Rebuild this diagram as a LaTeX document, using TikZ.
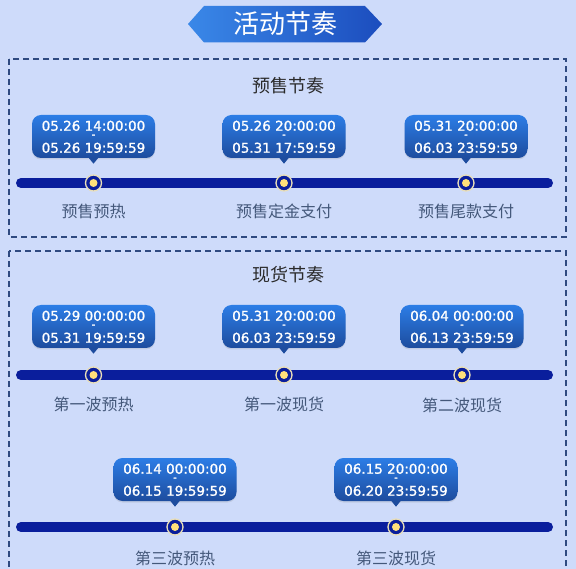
\documentclass[tikz,border=0pt]{standalone}
\usepackage{fontspec}
\usetikzlibrary{calc,shadows}
\newfontfamily\cjk{Noto Sans CJK SC}
\newfontfamily\num[FakeBold=1.3]{DejaVu Sans}
\definecolor{bg}{HTML}{CEDBFA}
\definecolor{barblue}{HTML}{0A1E9C}
\definecolor{boxline}{HTML}{2F4A80}
\definecolor{bubtop}{HTML}{2C7DE6}
\definecolor{bubbot}{HTML}{1D4C9E}
\definecolor{ring}{HTML}{EADFB8}
\definecolor{dotyel}{HTML}{FFE07A}
\definecolor{lbl}{HTML}{44587A}
\definecolor{ttl}{HTML}{2A2A2A}
\definecolor{banL}{HTML}{3A88E8}
\definecolor{banR}{HTML}{1C4DBE}
\tikzset{
  sectbox/.style={draw=boxline, line width=1.3pt, dash pattern=on 6pt off 4pt},
  bubble/.style={rounded corners=9pt, minimum width=123pt, minimum height=43pt, inner sep=0pt,
    top color=bubtop, bottom color=bubbot, draw=none,
    drop shadow={opacity=0.18, shadow xshift=0pt, shadow yshift=-1.5pt}},
  btext/.style={text=white, font=\num\fontsize{13.5}{15}\selectfont, inner sep=0pt},
  bdash/.style={text=white, font=\num\fontsize{10}{11}\selectfont, inner sep=0pt},
  steplbl/.style={text=lbl, font=\cjk\fontsize{16}{18}\selectfont, inner sep=0pt},
  secttl/.style={text=ttl, font=\cjk\fontsize{18}{20}\selectfont, inner sep=0pt},
  bar/.style={line width=10pt, line cap=round, draw=barblue},
  ringdot/.style={circle, minimum size=16pt, inner sep=0pt, fill=barblue, draw=ring, line width=1.3pt},
  yeldot/.style={circle, minimum size=8pt, inner sep=0pt, fill=dotyel}
}
\newcommand{\bub}[5]{%
  \node[bubble] (#1) at (#2,#3+21.5) {};
  \fill[bubbot] ($(#1.south)+(-4.5,0)$) -- ($(#1.south)+(0,5.5)$) -- ($(#1.south)+(4.5,0)$) -- cycle;
  \node[btext] (#1a) at ($(#1.north)+(0,11)$) {#4};
  \node[bdash] (#1d) at ($(#1.north)+(0,21.5)$) {-};
  \node[btext] (#1b) at ($(#1.north)+(0,33)$) {#5};
}
\newcommand{\stepdot}[5]{%
  \node[ringdot] (#1) at (#2,#3) {};
  \node[yeldot] (#1y) at (#1) {};
  \node[steplbl] (#1l) at (#2,#4) {#5};
}
\begin{document}
\begin{tikzpicture}[x=1pt,y=-1pt]
\fill[bg] (0,0) rectangle (576,569);
\useasboundingbox (0,0) rectangle (576,569);
% banner
\shade[left color=banL, right color=banR] (188,24) -- (204,6) -- (365,6) -- (382,24) -- (365,42.5) -- (204,42.5) -- cycle;
\node[text=white, font=\cjk\fontsize{26}{28}\selectfont, inner sep=0pt] (banner) at (285,24) {活动节奏};
% section boxes
\draw[sectbox] (9,59) rectangle (566,237);
\begin{scope}
\clip (0,0) rectangle (576,569);
\draw[sectbox] (9,251) rectangle (566,600);
\end{scope}
\node[secttl] (t1) at (288,86) {预售节奏};
\node[secttl] (t2) at (288,275) {现货节奏};
% row 1
\coordinate (r1s) at (21,183); \coordinate (r1e) at (548,183);
\draw[bar] (r1s) -- (r1e);
\bub{a1}{93.5}{115}{05.26 14:00:00}{05.26 19:59:59}
\bub{a2}{284}{115}{05.26 20:00:00}{05.31 17:59:59}
\bub{a3}{466}{115}{05.31 20:00:00}{06.03 23:59:59}
\stepdot{d1}{93.5}{183}{211}{预售预热}
\stepdot{d2}{284}{183}{211}{预售定金支付}
\stepdot{d3}{466}{183}{211}{预售尾款支付}
% row 2
\coordinate (r2s) at (21,375); \coordinate (r2e) at (548,375);
\draw[bar] (r2s) -- (r2e);
\bub{b1}{93.5}{305}{05.29 00:00:00}{05.31 19:59:59}
\bub{b2}{284}{305}{05.31 20:00:00}{06.03 23:59:59}
\bub{b3}{462}{305}{06.04 00:00:00}{06.13 23:59:59}
\stepdot{e1}{93.5}{375}{404}{第一波预热}
\stepdot{e2}{284}{375}{404}{第一波现货}
\stepdot{e3}{462}{375}{405}{第二波现货}
% row 3
\coordinate (r3s) at (21,527); \coordinate (r3e) at (548,527);
\draw[bar] (r3s) -- (r3e);
\bub{c1}{175}{458}{06.14 00:00:00}{06.15 19:59:59}
\bub{c2}{396}{458}{06.15 20:00:00}{06.20 23:59:59}
\stepdot{f1}{175}{527}{558}{第三波预热}
\stepdot{f2}{396}{527}{558}{第三波现货}
\end{tikzpicture}
\end{document}
